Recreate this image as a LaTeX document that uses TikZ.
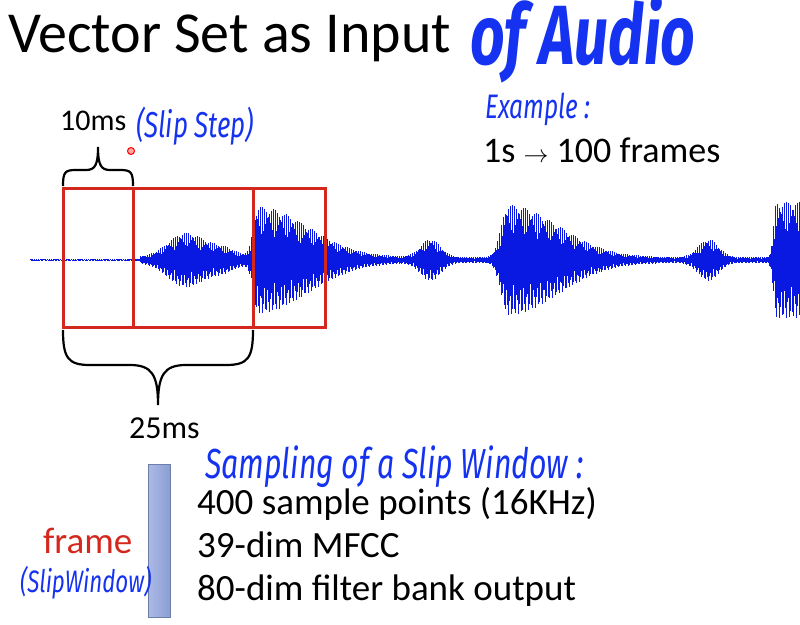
\documentclass[tikz,border=0pt]{standalone}
\usepackage{fontspec}
\setmainfont{Carlito}
\newfontfamily\hand[FakeStretch=0.72]{Fira Sans}
\definecolor{handblue}{RGB}{20,50,240}
\definecolor{wave}{RGB}{10,25,225}
\definecolor{framered}{RGB}{212,40,30}
\definecolor{barl}{RGB}{172,186,228}
\definecolor{bard}{RGB}{138,158,212}
\begin{document}
\begin{tikzpicture}[x=1pt,y=-1pt,
  declare function={
    g(\x,\c,\w)=exp(-(min(abs(\x-\c)/\w,4))^2);
    env(\x)=ifthenelse(\x<140,0.7,3) + 24*g(\x,185,25) + 9*g(\x,222,20)
      + ifthenelse(\x<258,52*g(\x,258,7),50*g(\x,258,70))
      + 18*g(\x,430,14)
      + ifthenelse(\x<508,53*g(\x,508,10),52*g(\x,508,70))
      + 18*g(\x,708,14)
      + ifthenelse(\x<776,55*g(\x,776,4),55);
  },
  txt/.style={anchor=base west,inner sep=0pt},
  hw/.style={anchor=base west,inner sep=0pt,text=handblue},
  brace/.style={draw=black,line width=2.2pt},
  framebox/.style={draw=framered,line width=3pt}
]
\useasboundingbox (0,0) rectangle (800,624);
\fill[white] (0,0) rectangle (800,624);

% title
\node[txt,font=\fontsize{58}{62}\selectfont] (title) at (8,52) {Vector Set as Input};
\node[hw,font=\hand\bfseries\itshape\fontsize{84}{86}\selectfont] (ofaudio) at (470,64) {of Audio};

% labels
\node[txt,font=\fontsize{30}{34}\selectfont] (ten) at (60,130) {10ms};
\node[hw,font=\hand\itshape\fontsize{36}{40}\selectfont] (slipstep) at (136,137) {(Slip Step)};
\node[circle,draw=red,fill=red!35,line width=1pt,minimum size=7pt,inner sep=0pt] (dot) at (131,151) {};
\node[hw,font=\hand\itshape\fontsize{34}{38}\selectfont] (example) at (485,118) {Example :};
\node[txt,font=\fontsize{36}{40}\selectfont] (onesec) at (483,162) {1s $\rightarrow$ 100 frames};

% waveform
\foreach \x in {30,...,800} {
  \pgfmathsetmacro\a{env(\x)}
  \pgfmathsetmacro\u{\a*(0.45+0.55*abs(sin(mod(\x,100)*97.3)))}
  \pgfmathsetmacro\d{\a*(0.45+0.55*abs(sin(mod(\x,100)*53.1+30)))}
  \draw[wave,line width=1pt] (\x,{260-\u}) -- (\x,{260+\d});
}

% frames
\draw[framebox] (63,188) rectangle (253,327);
\draw[framebox] (133,188) rectangle (325,327);

% braces
\draw[brace] (63,186) .. controls (63,172) and (65,170) .. (76,170) -- (86,170)
  .. controls (95,170) and (98,165) .. (98,147)
  .. controls (98,165) and (101,170) .. (110,170) -- (120,170)
  .. controls (131,170) and (133,172) .. (133,186);
\draw[brace] (63,330) .. controls (63,358) and (68,365) .. (90,365) -- (130,365)
  .. controls (152,365) and (158,375) .. (158,405)
  .. controls (158,375) and (164,365) .. (186,365) -- (226,365)
  .. controls (248,365) and (253,358) .. (253,330);
\node[txt,font=\fontsize{32}{36}\selectfont] (twentyfive) at (129,438) {25ms};

% bottom
\node[hw,font=\hand\itshape\fontsize{42}{46}\selectfont] (sampling) at (205,478) {Sampling of a Slip Window :};
\shade[left color=barl,right color=bard,draw=bard!80!black,line width=0.5pt] (148,464) rectangle (170,617);
\node[anchor=base west,inner sep=0pt,text=framered,font=\fontsize{37}{40}\selectfont] (frame) at (43,553) {frame};
\node[hw,font=\hand\itshape\fontsize{31}{36}\selectfont] (slipwin) at (20,592) {(SlipWindow)};
\node[txt,font=\fontsize{37}{40}\selectfont] (l1) at (197,514) {400 sample points (16KHz)};
\node[txt,font=\fontsize{37}{40}\selectfont] (l2) at (197,557) {39-dim MFCC};
\node[txt,font=\fontsize{37}{40}\selectfont] (l3) at (197,600) {80-dim filter bank output};
\end{tikzpicture}
\end{document}
